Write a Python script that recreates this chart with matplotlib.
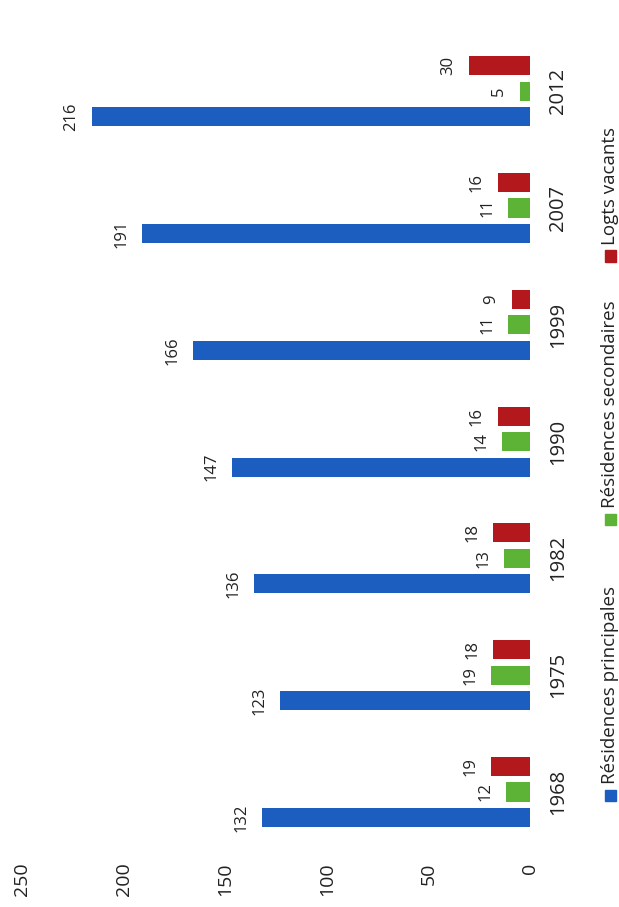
import numpy as np
import matplotlib.pyplot as plt
import matplotlib.transforms as mtransforms
from matplotlib.patches import Rectangle

plt.rcParams['font.family'] = ['Open Sans', 'DejaVu Sans']

# Logements par catégorie et par recensement
annees = ['1968', '1975', '1982', '1990', '1999', '2007', '2012']
res_principales = [132, 123, 136, 147, 166, 191, 216]
res_secondaires = [12, 19, 13, 14, 11, 11, 5]
logts_vacants = [19, 18, 18, 16, 9, 16, 30]
series = ['Résidences principales', 'Résidences secondaires', 'Logts vacants']
couleurs = ['#1c5ebf', '#5cb335', '#b3191c']
graduations = [0, 50, 100, 150, 200, 250]

W, H = 619, 907
fig = plt.figure(figsize=(W / 100, H / 100), dpi=100)

# axes placed in pixels; the chart is drawn turned a quarter turn
ax_left, ax_right, ax_top, ax_bot = 10, 545, 30, 850
ax = fig.add_axes([ax_left / W, 1 - ax_bot / H, (ax_right - ax_left) / W, (ax_bot - ax_top) / H])

x0_px, px_par_unite = 530, 2.03
g0_px, px_par_groupe = 792, 116.8
ax.set_xlim((x0_px - ax_left) / px_par_unite, (x0_px - ax_right) / px_par_unite)
ax.set_ylim((g0_px - ax_bot) / px_par_groupe, (g0_px - ax_top) / px_par_groupe)

pos = np.arange(len(annees))
epais = 0.163
decal = 0.218
valeurs = [res_principales, res_secondaires, logts_vacants]
for k, (vals, col) in enumerate(zip(valeurs, couleurs)):
    y = pos + (k - 1) * decal
    ax.barh(y, vals, height=epais, color=col, edgecolor='none')
    for yy, v in zip(y, vals):
        ax.annotate(str(v), (v, yy), xytext=(-9, 0), textcoords='offset points',
                    rotation=90, rotation_mode='anchor', ha='center', va='bottom',
                    fontsize=12, color='#222222')

ax.set_xticks(graduations)
ax.set_xticklabels([str(g) for g in graduations], rotation=90, fontsize=14, color='#222222')
ax.tick_params(axis='x', length=0, pad=9)
ax.set_yticks([])
for s in ax.spines.values():
    s.set_visible(False)

# years on the right of each group
trans = mtransforms.blended_transform_factory(fig.transFigure, ax.transData)
for p, a in zip(pos, annees):
    ax.text(558 / W, p, a, transform=trans, rotation=90, ha='center', va='center',
            fontsize=14.5, color='#222222')

# legend, one column on the right edge
leg_y = [795, 519, 256]
for nom, col, yc in zip(series, couleurs, leg_y):
    fig.patches.append(Rectangle(((610 - 5.5) / W, 1 - (yc + 5.5) / H), 11 / W, 11 / H,
                                 transform=fig.transFigure, color=col))
    fig.text(610 / W, 1 - (yc - 11) / H, nom, rotation=90, rotation_mode='anchor',
             ha='left', va='center', fontsize=13.5, color='#222222')

fig.savefig('out.png', dpi=100)
